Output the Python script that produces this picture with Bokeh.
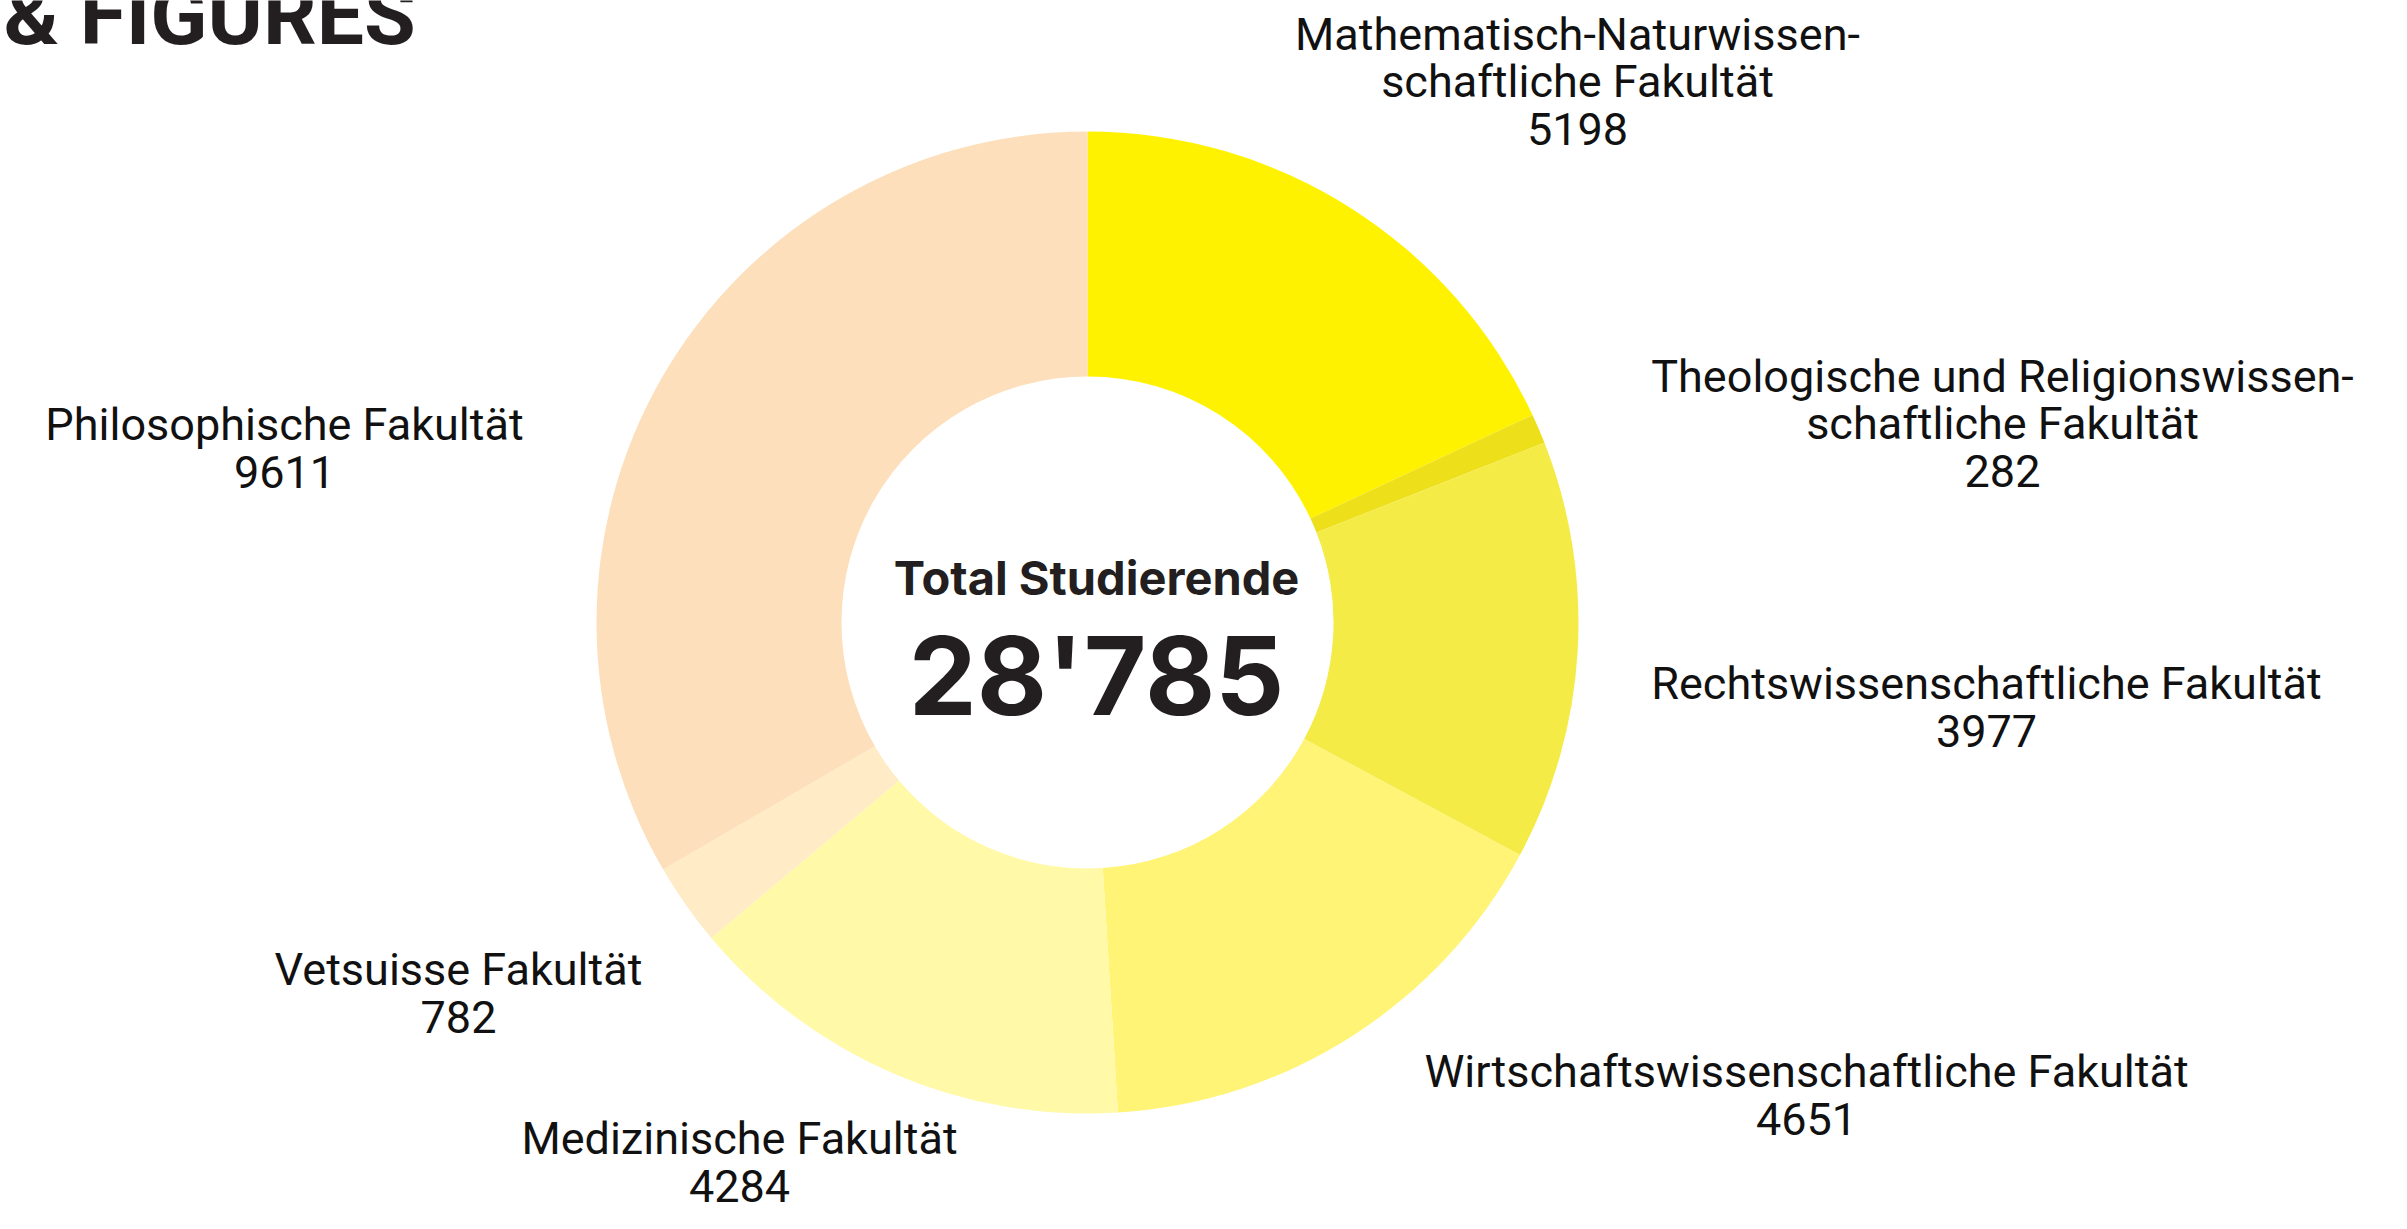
import math
from bokeh.plotting import figure
from bokeh.models import Range1d, ColumnDataSource
from bokeh.core.properties import value
from bokeh.embed import file_html
from bokeh.resources import INLINE

# ---- data ----
faculties = [
    "Mathematisch-Naturwissen-\nschaftliche Fakultät",
    "Theologische und Religionswissen-\nschaftliche Fakultät",
    "Rechtswissenschaftliche Fakultät",
    "Wirtschaftswissenschaftliche Fakultät",
    "Medizinische Fakultät",
    "Vetsuisse Fakultät",
    "Philosophische Fakultät",
]
students = [5198, 282, 3977, 4651, 4284, 782, 9611]
total_title = "Total Studierende"
total_label = "28'785"
header_text = "& FIGURES"

# ---- styles / layout ----
colors = ["#FFF200", "#EDE01A", "#F5EB47", "#FFF475", "#FFF9A8", "#FFECC6", "#FDDFBB"]
W, H = 2391, 1213
def sx(x):  # screen x -> data x
    return x
def sy(y):  # screen y -> data y
    return H - y

cx, cy = sx(1087), sy(622)
r_out, r_in = 491, 246
# label centres (screen coords of first line centre)
label_pos = [(1577, 34), (2002, 376), (1986, 683), (1806, 1071), (739, 1138), (458, 969), (284, 424)]
line_h = 47

p = figure(width=W, height=H, output_backend="svg", toolbar_location=None,
           x_range=Range1d(0, W), y_range=Range1d(0, H), min_border=0)
p.axis.visible = False
p.grid.visible = False
p.outline_line_color = None
p.background_fill_color = "white"

total = sum(students)
starts, ends = [], []
a = math.pi / 2
for v in students:
    starts.append(a)
    a -= v / total * 2 * math.pi
    ends.append(a)

src = ColumnDataSource(dict(start=starts, end=ends, color=colors))
p.annular_wedge(x=cx, y=cy, inner_radius=r_in, outer_radius=r_out,
                start_angle="end", end_angle="start", fill_color="color",
                line_color=None, source=src)

# labels
xs, ys, texts = [], [], []
for (lx, ly), name, v in zip(label_pos, faculties, students):
    lines = name.split("\n") + [str(v)]
    for i, t in enumerate(lines):
        xs.append(sx(lx))
        ys.append(sy(ly + i * line_h))
        texts.append(t)
p.text(x=xs, y=ys, text=texts, text_font=value("Roboto"), text_font_size="45px",
       text_align="center", text_baseline="middle", text_color="#111111")

# centre texts
p.text(x=[sx(1096)], y=[sy(577)], text=[total_title], text_font=value("Inter"),
       text_font_style="bold", text_font_size="47px", text_align="center",
       text_baseline="middle", text_color="#231F20")
p.text(x=[sx(1096)], y=[sy(675)], text=[total_label], text_font=value("Inter"),
       text_font_style="bold", text_font_size="108px", text_align="center",
       text_baseline="middle", text_color="#231F20")

# cropped header
p.text(x=[sx(3)], y=[sy(64)], text=[header_text], text_font=value("Roboto"),
       text_font_style="bold", text_font_size="84px", text_align="left",
       text_baseline="bottom", text_color="#231F20")

open("out.html", "w").write(file_html(p, INLINE))
